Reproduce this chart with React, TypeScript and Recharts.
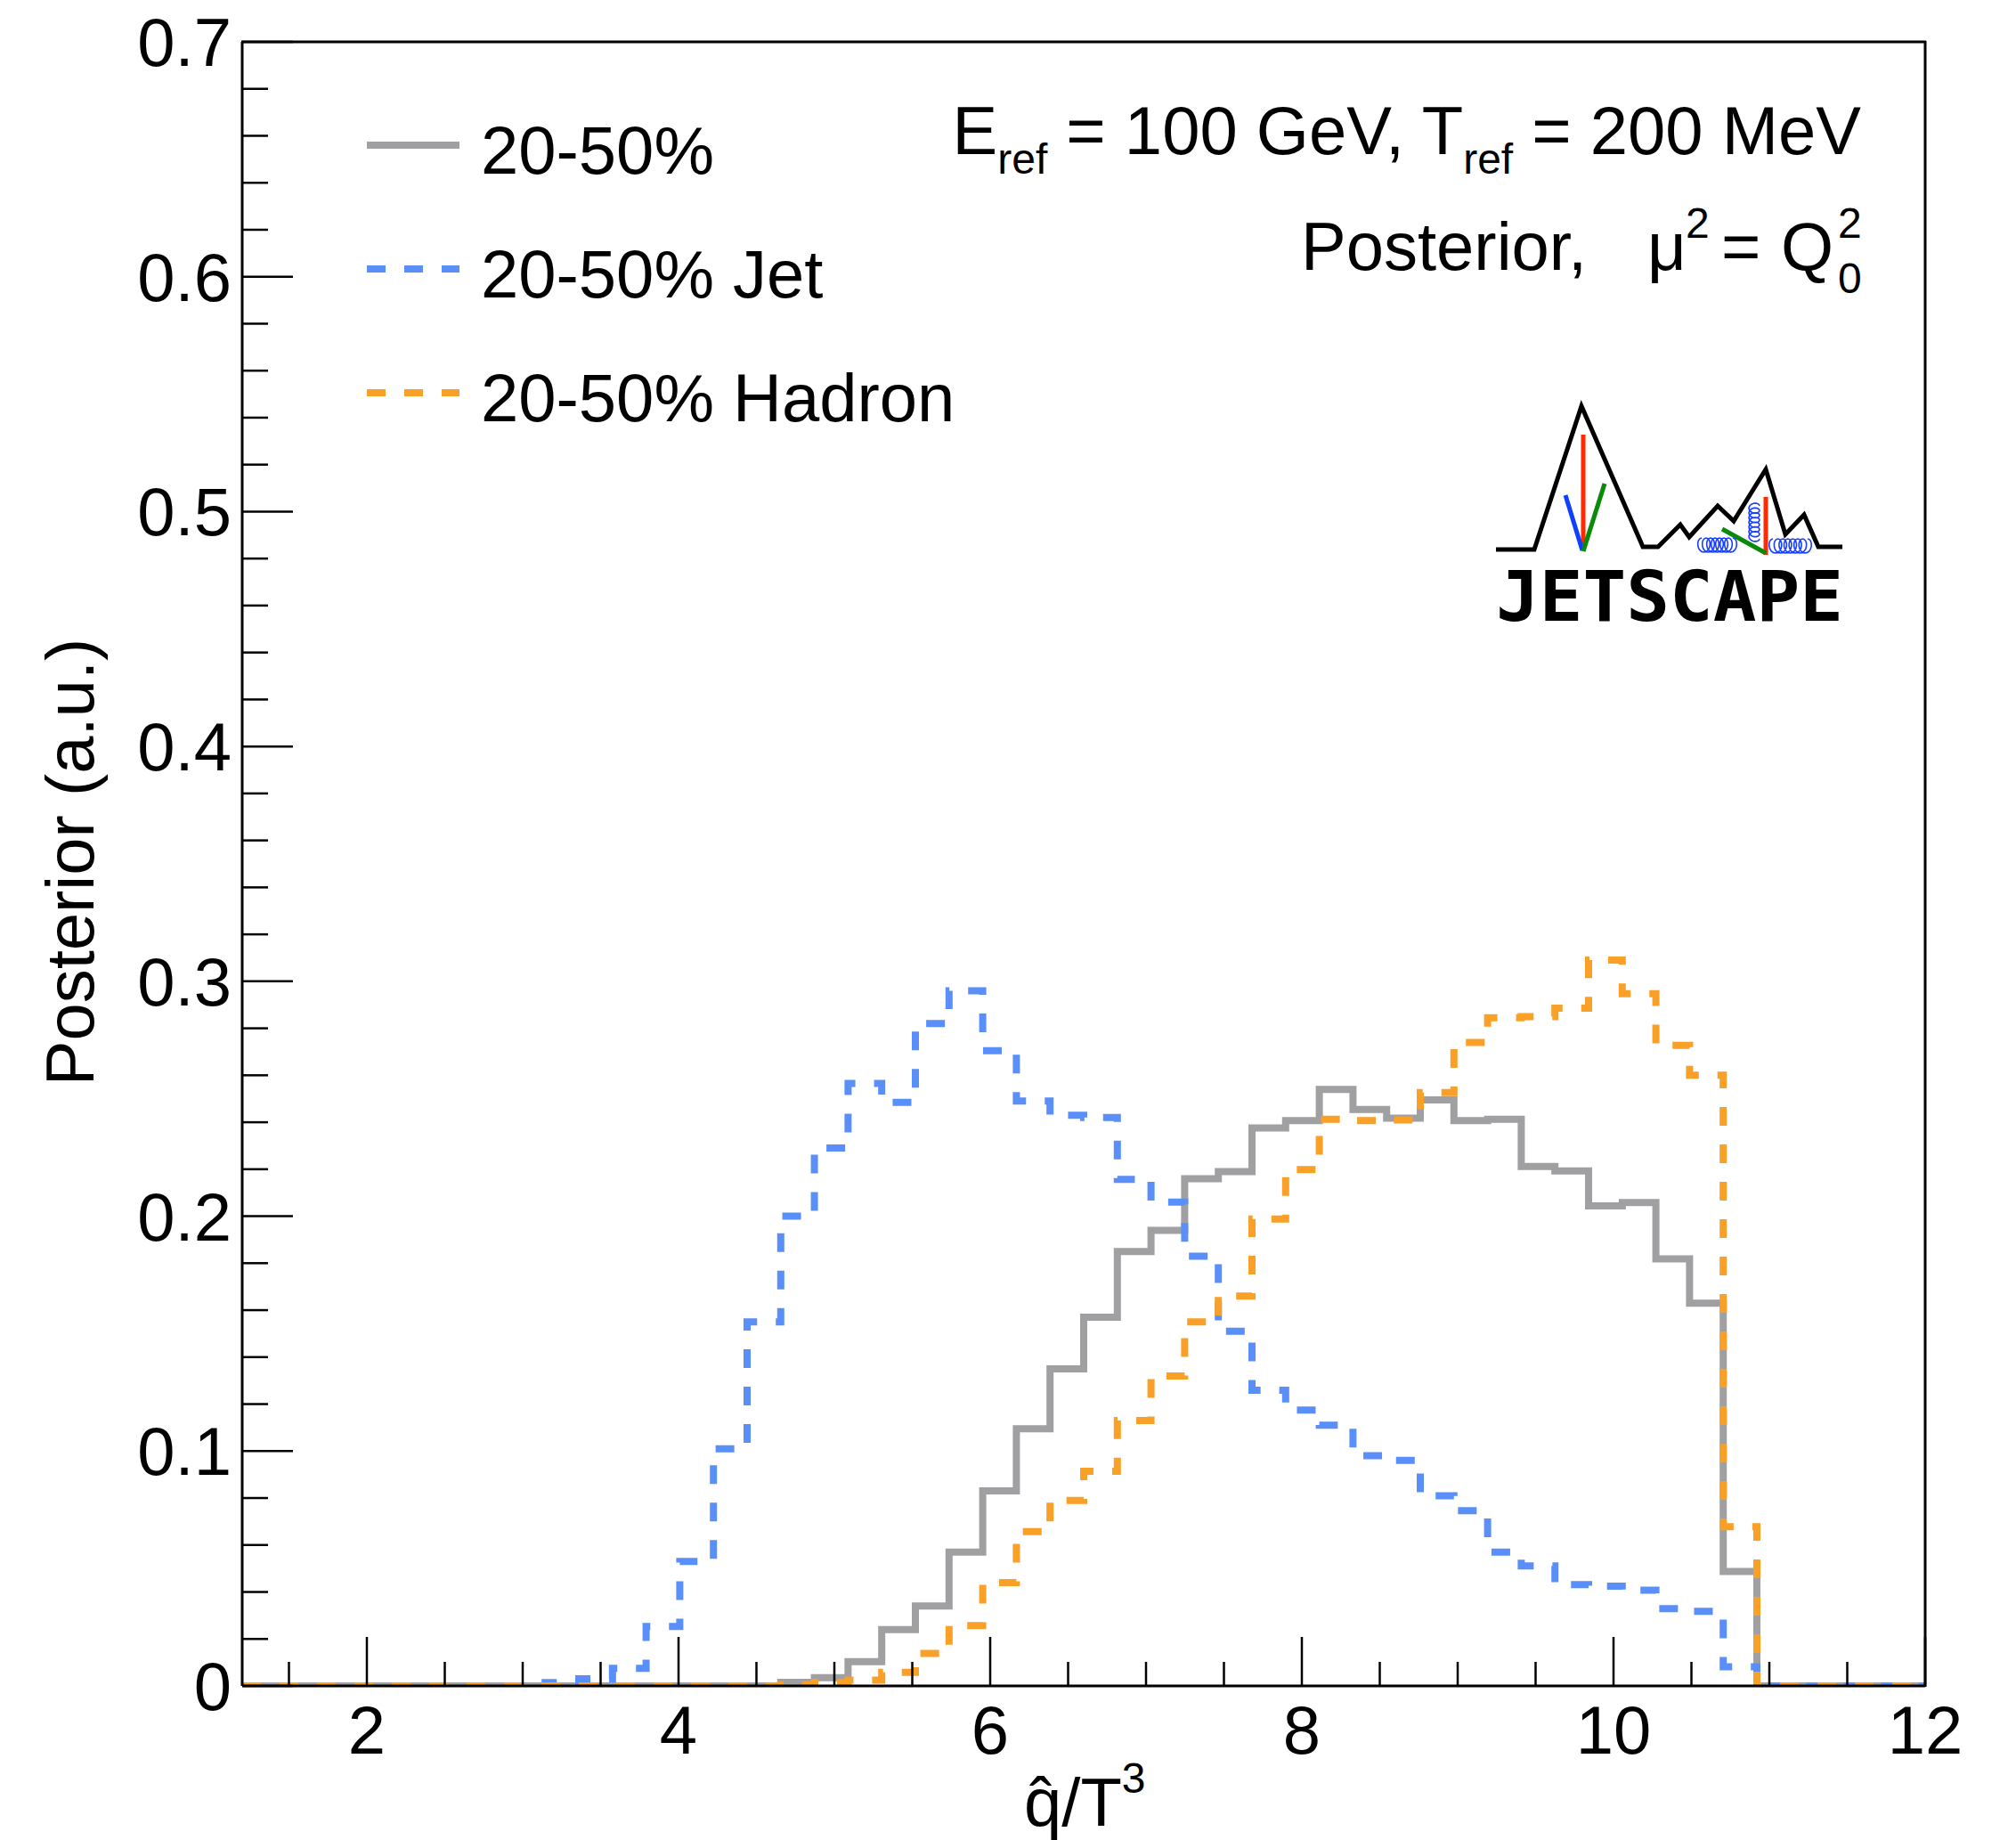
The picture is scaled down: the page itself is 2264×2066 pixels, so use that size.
import React from "react";
import { LineChart, Line, XAxis, YAxis } from "recharts";

// histogram bin edges in qhat/T^3 (50 bins, 1.2 .. 12)
const binEdges = [
  1.2, 1.416, 1.632, 1.848, 2.064, 2.28, 2.496, 2.712, 2.928, 3.144,
  3.36, 3.576, 3.792, 4.008, 4.224, 4.44, 4.656, 4.872, 5.088, 5.304,
  5.52, 5.736, 5.952, 6.168, 6.384, 6.6, 6.816, 7.032, 7.248, 7.464,
  7.68, 7.896, 8.112, 8.328, 8.544, 8.76, 8.976, 9.192, 9.408, 9.624,
  9.84, 10.056, 10.272, 10.488, 10.704, 10.92, 11.136, 11.352, 11.568, 11.784,
  12.0,
];

// posterior per bin
const allCentrality = [
  0, 0, 0, 0, 0, 0, 0, 0, 0, 0,
  0, 0, 0, 0, 0, 0, 0.0015, 0.0035, 0.0103, 0.024,
  0.034, 0.057, 0.083, 0.1095, 0.135, 0.157, 0.185, 0.194, 0.216, 0.219,
  0.2376, 0.2407, 0.254, 0.2454, 0.2417, 0.2495, 0.2407, 0.2413, 0.2212, 0.2193,
  0.2044, 0.2058, 0.1818, 0.163, 0.0487, 0, 0, 0, 0, 0,
];
const jetOnly = [
  0, 0, 0, 0, 0, 0, 0, 0, 0, 0.0014,
  0.003, 0.0075, 0.0253, 0.053, 0.101, 0.155, 0.2, 0.229, 0.2565, 0.2485,
  0.282, 0.296, 0.2705, 0.249, 0.243, 0.242, 0.2157, 0.206, 0.183, 0.151,
  0.1259, 0.1175, 0.111, 0.098, 0.096, 0.081, 0.0746, 0.057, 0.0511, 0.0431,
  0.0425, 0.0408, 0.0329, 0.0318, 0.0082, 0, 0, 0, 0, 0,
];
const hadronOnly = [
  0, 0, 0, 0, 0, 0, 0, 0, 0, 0,
  0, 0, 0, 0, 0, 0, 0.0005, 0.0015, 0.0025, 0.0058,
  0.0138, 0.0257, 0.044, 0.0657, 0.079, 0.0914, 0.113, 0.132, 0.155, 0.166,
  0.1988, 0.2198, 0.2413, 0.2407, 0.241, 0.2526, 0.274, 0.2845, 0.285, 0.2886,
  0.309, 0.2947, 0.2727, 0.26, 0.0678, 0, 0, 0, 0, 0,
];

const xMajor = [2, 4, 6, 8, 10, 12];
const xMinor = [1.5, 2.5, 3, 3.5, 4.5, 5, 5.5, 6.5, 7, 7.5, 8.5, 9, 9.5, 10.5, 11, 11.5];
const yMajor = [0, 0.1, 0.2, 0.3, 0.4, 0.5, 0.6, 0.7];
const yLabels = ["0", "0.1", "0.2", "0.3", "0.4", "0.5", "0.6", "0.7"];
const yMinor = [
  0.02, 0.04, 0.06, 0.08, 0.12, 0.14, 0.16, 0.18, 0.22, 0.24, 0.26, 0.28,
  0.32, 0.34, 0.36, 0.38, 0.42, 0.44, 0.46, 0.48, 0.52, 0.54, 0.56, 0.58,
  0.62, 0.64, 0.66, 0.68,
];

const legendItems = [
  { label: "20-50%", color: "#a0a0a3", dash: undefined as string | undefined },
  { label: "20-50% Jet", color: "#5a8ff9", dash: "21 21" },
  { label: "20-50% Hadron", color: "#f8a028", dash: "21 21" },
];

const W = 2264;
const H = 2066;
const FONT = "'Liberation Sans', Arial, Helvetica, sans-serif";
const FS = 76;
const SUB = 48;

const rows = binEdges.map((x, i) => {
  const j = Math.min(i, allCentrality.length - 1);
  return { x, all: allCentrality[j], jet: jetOnly[j], hadron: hadronOnly[j] };
});

const near = (arr: number[], v: number) => arr.findIndex((m) => Math.abs(m - v) < 1e-6);

const XTick = (props: any) => {
  const { x, y, payload } = props;
  const major = near(xMajor, payload.value) >= 0;
  return (
    <g>
      <line x1={x} x2={x} y1={y} y2={y - (major ? 55 : 27)} stroke="#000" strokeWidth={2.5} />
      {major && (
        <text x={x} y={y + 76} textAnchor="middle" fontSize={FS} fontFamily={FONT} fill="#000">
          {payload.value}
        </text>
      )}
    </g>
  );
};

const YTick = (props: any) => {
  const { x, y, payload } = props;
  const idx = near(yMajor, payload.value);
  const major = idx >= 0;
  return (
    <g>
      <line x1={x} x2={x + (major ? 57 : 29)} y1={y} y2={y} stroke="#000" strokeWidth={2.5} />
      {major && (
        <text x={x - 12} y={y + 27} textAnchor="end" fontSize={FS} fontFamily={FONT} fill="#000">
          {yLabels[idx]}
        </text>
      )}
    </g>
  );
};

// gluon spring for the logo
function coil(x1: number, y1: number, x2: number, y2: number, loops: number, r: number) {
  const dx = x2 - x1;
  const dy = y2 - y1;
  const len = Math.hypot(dx, dy);
  const ux = dx / len;
  const uy = dy / len;
  const steps = loops * 16;
  let d = "";
  for (let s = 0; s <= steps; s++) {
    const t = s / steps;
    const th = t * loops * Math.PI * 2;
    const a = t * len - r * 0.7 * Math.sin(th);
    const b = r * (1 - Math.cos(th)) - r;
    const px = x1 + ux * a - uy * b;
    const py = y1 + uy * a + ux * b;
    d += (s === 0 ? "M" : "L") + px.toFixed(1) + " " + py.toFixed(1);
  }
  return d;
}

const Logo = () => (
  <g>
    <polyline
      points="1680,617 1723,617 1776,456 1845,614 1862,614 1887,589 1897,603 1929,568 1947,585 1983,527 2005,600 2026,578 2042,614 2069,614"
      fill="none"
      stroke="#000"
      strokeWidth={5}
      strokeLinejoin="miter"
    />
    <line x1={1778} y1={488} x2={1778} y2={618} stroke="#ff2a00" strokeWidth={5} />
    <line x1={1758} y1={556} x2={1777} y2={618} stroke="#1040ff" strokeWidth={5} />
    <line x1={1802} y1={543} x2={1778} y2={619} stroke="#0a8a0a" strokeWidth={5} />
    <line x1={1983} y1={558} x2={1983} y2={623} stroke="#ff2a00" strokeWidth={5} />
    <line x1={1934} y1={594} x2={1983} y2={621} stroke="#0a8a0a" strokeWidth={5} />
    <path d={coil(1911, 612, 1946, 612, 7, 8)} fill="none" stroke="#1a40ff" strokeWidth={1.6} />
    <path d={coil(1970, 568, 1970, 605, 7, 6)} fill="none" stroke="#1a40ff" strokeWidth={1.6} />
    <path d={coil(1991, 613, 2030, 613, 7, 8)} fill="none" stroke="#1a40ff" strokeWidth={1.6} />
    <text
      x={1680}
      y={697}
      fontSize={78}
      fontWeight="bold"
      fontFamily="'DejaVu Sans Mono', monospace"
      textLength={390}
      lengthAdjust="spacingAndGlyphs"
      fill="#000"
    >
      JETSCAPE
    </text>
  </g>
);

const Overlay = () => (
  <svg
    width={W}
    height={H}
    style={{ position: "absolute", left: 0, top: 0, pointerEvents: "none" }}
    fontFamily={FONT}
  >
    {/* frame top/right */}
    <line x1={271} y1={47} x2={2163} y2={47} stroke="#000" strokeWidth={3} />
    <line x1={2162} y1={46} x2={2162} y2={1894} stroke="#000" strokeWidth={3} />

    {/* legend */}
    {legendItems.map((it, i) => {
      const ly = 163 + i * 139;
      return (
        <g key={it.label}>
          <line x1={412} x2={516} y1={ly} y2={ly} stroke={it.color} strokeWidth={8} strokeDasharray={it.dash} />
          <text x={540} y={ly + 32} fontSize={FS} fill="#000">
            {it.label}
          </text>
        </g>
      );
    })}

    {/* annotation */}
    <text x={2090} y={173} textAnchor="end" fontSize={FS} fill="#000">
      E
      <tspan dy={22} fontSize={SUB}>ref</tspan>
      <tspan dy={-22}> = 100 GeV, T</tspan>
      <tspan dy={22} fontSize={SUB}>ref</tspan>
      <tspan dy={-22}> = 200 MeV</tspan>
    </text>
    <text x={1461} y={303} fontSize={FS} fill="#000">Posterior,</text>
    <text x={1850} y={303} fontSize={FS} fill="#000">μ</text>
    <text x={1893} y={267} fontSize={SUB} fill="#000">2</text>
    <text x={1933} y={303} fontSize={FS} fill="#000">=</text>
    <text x={2000} y={303} fontSize={FS} fill="#000">Q</text>
    <text x={2064} y={267} fontSize={SUB} fill="#000">2</text>
    <text x={2064} y={329} fontSize={SUB} fill="#000">0</text>

    <Logo />

    {/* axis titles */}
    <text transform="translate(105,968) rotate(-90)" textAnchor="middle" fontSize={FS} fill="#000">
      Posterior (a.u.)
    </text>
    <text x={1150} y={2050} fontSize={FS} fill="#000">
      {"q\u0302/T"}
      <tspan dy={-37} fontSize={SUB}>3</tspan>
    </text>
  </svg>
);

export default function App() {
  return (
    <div style={{ position: "absolute", left: 0, top: 0, width: W, height: H, background: "#fff" }}>
      <LineChart width={W} height={H} data={rows} margin={{ top: 47, right: 102, bottom: 73, left: 72 }}>
        <XAxis
          type="number"
          dataKey="x"
          domain={[1.2, 12]}
          allowDataOverflow
          ticks={[...xMajor, ...xMinor]}
          interval={0}
          tick={<XTick />}
          tickLine={false}
          tickSize={0}
          tickMargin={0}
          height={100}
          axisLine={{ stroke: "#000", strokeWidth: 3 }}
        />
        <YAxis
          type="number"
          domain={[0, 0.7]}
          allowDataOverflow
          ticks={[...yMajor, ...yMinor]}
          interval={0}
          tick={<YTick />}
          tickLine={false}
          tickSize={0}
          tickMargin={0}
          width={200}
          axisLine={{ stroke: "#000", strokeWidth: 3 }}
        />
        <Line
          type="stepAfter"
          dataKey="all"
          stroke="#a0a0a3"
          strokeWidth={8}
          dot={false}
          activeDot={false}
          isAnimationActive={false}
        />
        <Line
          type="stepAfter"
          dataKey="jet"
          stroke="#5a8ff9"
          strokeWidth={8}
          strokeDasharray="21 21"
          dot={false}
          activeDot={false}
          isAnimationActive={false}
        />
        <Line
          type="stepAfter"
          dataKey="hadron"
          stroke="#f8a028"
          strokeWidth={8}
          strokeDasharray="21 21"
          dot={false}
          activeDot={false}
          isAnimationActive={false}
        />
      </LineChart>
      <Overlay />
    </div>
  );
}
